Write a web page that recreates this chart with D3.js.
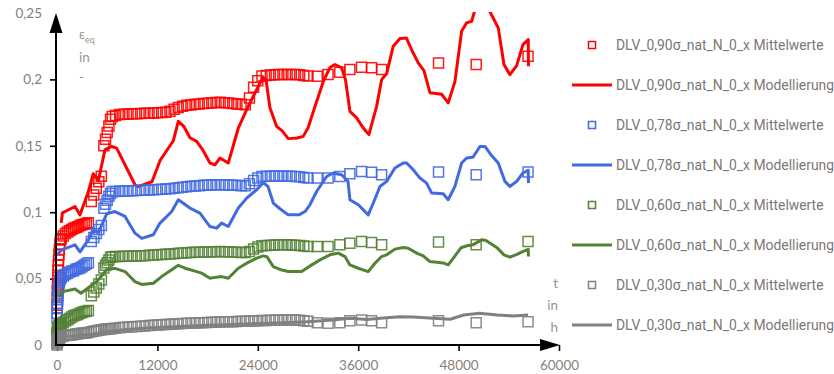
<!DOCTYPE html>
<html>
<head>
<meta charset="utf-8">
<script src="https://cdn.jsdelivr.net/npm/d3@7/dist/d3.min.js"></script>
<style>
  body { margin: 0; background: #fff; }
  svg { display: block; }
</style>
</head>
<body>
<svg id="chart" width="834" height="374"></svg>
<script>
// ---- Mittelwerte: shared measuring times (s) ----
const mwTime = [
  0, 20, 40, 60, 90, 120, 150, 190, 230, 280, 340, 420,
  500, 750, 1000, 1250, 1500, 1750, 2000, 2250, 2500, 2750, 3000, 3250, 3500, 3750,
  4100, 4400, 4700, 5000, 5300,
  5600, 5800, 6000, 6200, 6400, 6600,
  7000, 7500, 8000, 8500, 9000, 9500, 10000, 10500, 11000, 11500, 12000, 12500, 13000, 13500,
  14000, 14500, 15000, 15500, 16000, 16500, 17000, 17500, 18000, 18500, 19000, 19500, 20000,
  20500, 21000, 21500, 22000, 22500, 23000, 23500, 24000, 24500, 25000, 25500, 26000, 26500,
  27000, 27500, 28000, 28500, 29000, 29500, 30000,
  31100, 32400, 33800, 35000, 36400, 37600, 38800, 45600, 50100, 56300
];

const mw090 = [
  0.030, 0.036, 0.041, 0.046, 0.051, 0.056, 0.060, 0.064, 0.068, 0.072, 0.076, 0.079,
  0.080, 0.082, 0.084, 0.085, 0.086, 0.087, 0.088, 0.0885, 0.089, 0.090, 0.0905, 0.091, 0.0915, 0.092,
  0.108, 0.113, 0.118, 0.123, 0.127,
  0.150, 0.155, 0.160, 0.165, 0.170, 0.172,
  0.1728, 0.1735, 0.1738, 0.1740, 0.1742, 0.1741, 0.1744, 0.1746, 0.1745, 0.1747, 0.1748, 0.1750, 0.1752, 0.1760,
  0.1775, 0.1788, 0.1798, 0.1805, 0.1808, 0.1812, 0.1815, 0.1818, 0.1820, 0.1823, 0.1826, 0.1827, 0.1825,
  0.1822, 0.1818, 0.1815, 0.1812, 0.1810, 0.1860, 0.1940, 0.1990, 0.2025, 0.2030, 0.2033, 0.2035, 0.2036,
  0.2036, 0.2037, 0.2036, 0.2036, 0.2035, 0.2030, 0.2025,
  0.2024, 0.2036, 0.2054, 0.2074, 0.2091, 0.2087, 0.2074, 0.2124, 0.2112, 0.2175
];

const mw078 = [
  0.020, 0.024, 0.028, 0.031, 0.034, 0.037, 0.040, 0.043, 0.045, 0.047, 0.049, 0.050,
  0.051, 0.052, 0.053, 0.054, 0.055, 0.0555, 0.056, 0.057, 0.0575, 0.058, 0.059, 0.060, 0.061, 0.062,
  0.078, 0.081, 0.084, 0.087, 0.090,
  0.103, 0.106, 0.109, 0.112, 0.114, 0.1155,
  0.1156, 0.1157, 0.1159, 0.1160, 0.1162, 0.1163, 0.1165, 0.1166, 0.1168, 0.1169, 0.1170, 0.1172, 0.1174, 0.1177,
  0.1180, 0.1184, 0.1188, 0.1192, 0.1195, 0.1198, 0.1200, 0.1202, 0.1204, 0.1205, 0.1206, 0.1207, 0.1206,
  0.1205, 0.1203, 0.1202, 0.1200, 0.1200, 0.1215, 0.1238, 0.1258, 0.1268, 0.1270, 0.1271, 0.1272, 0.1272,
  0.1272, 0.1271, 0.1270, 0.1269, 0.1267, 0.1262, 0.1258,
  0.1257, 0.1257, 0.1269, 0.1290, 0.1307, 0.1300, 0.1282, 0.1302, 0.1282, 0.1302
];

const mw060 = [
  0.008, 0.009, 0.010, 0.011, 0.012, 0.013, 0.013, 0.014, 0.014, 0.015, 0.015, 0.016,
  0.016, 0.017, 0.018, 0.019, 0.020, 0.021, 0.022, 0.0225, 0.023, 0.024, 0.0245, 0.025, 0.0255, 0.026,
  0.037, 0.040, 0.043, 0.046, 0.049,
  0.058, 0.060, 0.062, 0.064, 0.066, 0.0665,
  0.0666, 0.0667, 0.0668, 0.0669, 0.0670, 0.0671, 0.0672, 0.0673, 0.0675, 0.0677, 0.0679, 0.0681, 0.0683, 0.0686,
  0.0688, 0.0690, 0.0692, 0.0694, 0.0696, 0.0698, 0.0699, 0.0700, 0.0701, 0.0702, 0.0703, 0.0704, 0.0703,
  0.0702, 0.0700, 0.0699, 0.0697, 0.0696, 0.0705, 0.0722, 0.0738, 0.0747, 0.0750, 0.0752, 0.0753, 0.0754,
  0.0754, 0.0754, 0.0753, 0.0752, 0.0750, 0.0746, 0.0742,
  0.0741, 0.0741, 0.0754, 0.0767, 0.0779, 0.0771, 0.0754, 0.0775, 0.0754, 0.0779
];

const mw030 = [
  0.000, 0.001, 0.002, 0.003, 0.003, 0.004, 0.004, 0.005, 0.005, 0.005, 0.006, 0.006,
  0.0065, 0.0068, 0.0071, 0.0074, 0.0076, 0.0078, 0.0080, 0.0082, 0.0084, 0.0086, 0.0088, 0.0090, 0.0092, 0.0094,
  0.0100, 0.0104, 0.0108, 0.0112, 0.0115,
  0.0117, 0.0119, 0.0120, 0.0122, 0.0123, 0.0125,
  0.0126, 0.0130, 0.0133, 0.0136, 0.0138, 0.0140, 0.0142, 0.0144, 0.0146, 0.0148, 0.0150, 0.0152, 0.0154, 0.0156,
  0.0158, 0.0160, 0.0161, 0.0163, 0.0164, 0.0166, 0.0167, 0.0168, 0.0170, 0.0171, 0.0172, 0.0174, 0.0175,
  0.0176, 0.0176, 0.0177, 0.0178, 0.0179, 0.0180, 0.0181, 0.0182, 0.0184, 0.0185, 0.0186, 0.0187, 0.0188,
  0.0189, 0.0189, 0.0189, 0.0188, 0.0186, 0.0182, 0.0178,
  0.0168, 0.0164, 0.0168, 0.0183, 0.0189, 0.0183, 0.0168, 0.0183, 0.0168, 0.0176
];

// ---- Modellierung: [t in s, eps_eq] ----
const mod090 = [
  [500,0.0920],[650,0.0995],[2150,0.1043],[2750,0.0980],[3700,0.1146],[4340,0.1290],[4940,0.1237],
  [5740,0.1471],[6540,0.1495],[7130,0.1483],[9320,0.1207],[9680,0.1192],[11350,0.1229],[12310,0.1388],
  [13900,0.1538],[14500,0.1684],[15180,0.1644],[15890,0.1561],[16690,0.1533],[17480,0.1463],[18280,0.1370],
  [18880,0.1357],[19480,0.1408],[20470,0.1370],[21670,0.1634],[22670,0.1772],[23860,0.1923],[24620,0.2014],
  [24980,0.1998],[25450,0.1787],[26250,0.1646],[26890,0.1614],[27640,0.1554],[28680,0.1559],[29430,0.1571],
  [30000,0.1634],[30830,0.1795],[31820,0.1983],[32620,0.2089],[33220,0.2112],[34020,0.2087],[34480,0.1998],
  [35010,0.1759],[35810,0.1710],[36600,0.1634],[37280,0.1584],[38200,0.1797],[38800,0.1998],[39400,0.2044],
  [40190,0.2250],[40990,0.2308],[41770,0.2311],[42480,0.2210],[43180,0.2124],[43860,0.2066],[44570,0.1900],
  [45970,0.1889],[46760,0.1823],[47560,0.1983],[48360,0.2363],[48960,0.2426],[49560,0.2438],[50300,0.2600],
  [51000,0.2610],[51740,0.2511],[52740,0.2388],[53420,0.2112],[54130,0.2036],[54940,0.2104],[55690,0.2262],
  [56320,0.2300],[56350,0.2099]
];

const mod078 = [
  [0,0.0680],[560,0.0716],[2150,0.0754],[2750,0.0701],[3740,0.0792],[4340,0.0867],[4940,0.0845],
  [5940,0.0988],[6930,0.1005],[8130,0.0968],[9320,0.0842],[10120,0.0803],[11510,0.0830],[12310,0.0918],
  [13710,0.1005],[14500,0.1094],[15180,0.1063],[15890,0.1031],[17090,0.0993],[18280,0.0892],[19080,0.0880],
  [19680,0.0918],[20470,0.0892],[21670,0.1031],[22670,0.1106],[23860,0.1169],[24650,0.1222],[25220,0.1194],
  [25850,0.1069],[26650,0.1026],[27640,0.0980],[28920,0.0980],[29640,0.1005],[30230,0.1056],[31030,0.1156],
  [32230,0.1269],[33020,0.1295],[34020,0.1282],[34780,0.1232],[35010,0.1094],[36010,0.1056],[37200,0.0980],
  [37800,0.1069],[38600,0.1194],[39400,0.1232],[40390,0.1333],[41380,0.1370],[41790,0.1370],[42580,0.1320],
  [43380,0.1257],[44180,0.1219],[44780,0.1144],[46160,0.1139],[46760,0.1094],[47560,0.1194],[48360,0.1370],
  [48960,0.1408],[49710,0.1414],[50550,0.1495],[51150,0.1495],[51860,0.1433],[52740,0.1370],[53540,0.1232],
  [54130,0.1194],[54940,0.1232],[55690,0.1295],[56320,0.1316],[56350,0.1219]
];

const mod060 = [
  [200,0.0364],[560,0.0400],[2150,0.0422],[2870,0.0390],[3940,0.0440],[4740,0.0477],[5940,0.0566],
  [6930,0.0577],[8130,0.0553],[9320,0.0477],[10120,0.0456],[11510,0.0465],[12510,0.0515],[13710,0.0566],
  [14500,0.0600],[15300,0.0578],[16290,0.0560],[17290,0.0541],[18280,0.0503],[19080,0.0511],[19680,0.0515],
  [20470,0.0503],[21670,0.0578],[22670,0.0616],[23860,0.0654],[24650,0.0671],[25100,0.0664],[25850,0.0590],
  [26650,0.0569],[27640,0.0553],[29240,0.0553],[30110,0.0590],[31430,0.0641],[32620,0.0679],[33620,0.0692],
  [34420,0.0666],[35010,0.0603],[36010,0.0578],[37200,0.0553],[38000,0.0616],[38800,0.0666],[39400,0.0679],
  [40390,0.0722],[41380,0.0734],[41980,0.0729],[42990,0.0692],[43770,0.0671],[44570,0.0628],[46160,0.0618],
  [46760,0.0603],[47440,0.0660],[48280,0.0732],[49000,0.0747],[49680,0.0754],[50750,0.0792],[51270,0.0787],
  [52550,0.0735],[53420,0.0679],[54130,0.0661],[54970,0.0682],[55720,0.0705],[56320,0.0720],[56350,0.0666]
];

const mod030 = [
  [0,0.0060],[2000,0.0068],[4000,0.0080],[6000,0.0100],[8000,0.0115],[10000,0.0125],[12000,0.0132],
  [14000,0.0138],[16000,0.0143],[18000,0.0148],[20000,0.0152],[22000,0.0157],[24000,0.0162],[26000,0.0166],
  [28000,0.0170],[30000,0.0176],[33000,0.0189],[35000,0.0201],[37000,0.0192],[39000,0.0203],[41000,0.0213],
  [42600,0.0210],[45000,0.0201],[47000,0.0194],[48600,0.0226],[50500,0.0239],[52600,0.0226],[54500,0.0219],
  [56300,0.0226]
];

// ---- series, axis ticks ----
const seriesLabels = ["DLV_0,90σ_nat_N_0_x", "DLV_0,78σ_nat_N_0_x", "DLV_0,60σ_nat_N_0_x", "DLV_0,30σ_nat_N_0_x"];
const seriesColors = ["#ff0000", "#4169e1", "#548235", "#808080"];
const meanSeries = [mw090, mw078, mw060, mw030];
const modelSeries = [mod090, mod078, mod060, mod030];
const xTicks = [0, 12000, 24000, 36000, 48000, 60000];
const yTicks = [0, 0.05, 0.1, 0.15, 0.2, 0.25];

const svg = d3.select("#chart");
const x = d3.scaleLinear().domain([0, 60000]).range([57, 559]);
const y = d3.scaleLinear().domain([0, 0.25]).range([345, 13]);

const de = d3.formatLocale({ decimal: ",", thousands: ".", grouping: [3], currency: ["", "€"] });
const fmtY = de.format("~g");
const tickColor = "#877f78";
const titleColor = "#a39384";

svg.append("defs").append("clipPath").attr("id", "plotClip")
  .append("rect").attr("x", 40).attr("y", y(0.25) - 1).attr("width", 530).attr("height", 374);

// axes
const gx = svg.append("g").attr("transform", `translate(0,${y(0)})`)
  .call(d3.axisBottom(x).tickValues(xTicks).tickFormat(d3.format("d")).tickSize(6).tickPadding(9));
const gy = svg.append("g").attr("transform", `translate(${x(0) - 1},0)`)
  .call(d3.axisLeft(y).tickValues(yTicks).tickFormat(fmtY).tickSize(6).tickPadding(8));
[gx, gy].forEach(g => {
  g.select(".domain").remove();
  g.selectAll(".tick line").attr("stroke", "#000").attr("stroke-width", 1.6);
  g.selectAll(".tick text").attr("fill", tickColor).style("font-family", "Lato, 'Open Sans', sans-serif").style("font-size", "13.5px");
});
gy.selectAll(".tick").filter(d => d === 0 || d === 0.25).select("line").remove();

// series
const plot = svg.append("g").attr("clip-path", "url(#plotClip)");
const sq = d3.symbol(d3.symbolSquare, 100);
const line = d3.line().x(d => x(d[0])).y(d => y(d[1]));

seriesLabels.forEach((name, i) => {
  const pts = mwTime.map((t, k) => [t, meanSeries[i][k]]);
  plot.append("g").selectAll("path").data(pts).join("path")
    .attr("d", sq)
    .attr("transform", d => `translate(${x(d[0])},${y(d[1])})`)
    .attr("fill", "none")
    .attr("stroke", seriesColors[i])
    .attr("stroke-width", 1.5)
    .attr("stroke-opacity", 0.9);
  plot.append("path").datum(modelSeries[i])
    .attr("d", line)
    .attr("fill", "none")
    .attr("stroke", seriesColors[i])
    .attr("stroke-width", 3)
    .attr("stroke-linejoin", "round");
});

// axis lines with arrow heads
const ax = svg.append("g");
ax.append("line").attr("x1", x(0) - 1).attr("x2", x(60000) - 10).attr("y1", y(0)).attr("y2", y(0))
  .attr("stroke", "#000").attr("stroke-width", 2);
ax.append("line").attr("x1", x(0) - 1).attr("x2", x(0) - 1).attr("y1", y(0) + 1).attr("y2", y(0.25) + 10)
  .attr("stroke", "#000").attr("stroke-width", 2);
ax.append("path")
  .attr("d", `M${x(60000) + 1},${y(0)} L${x(60000) - 19},${y(0) - 6} L${x(60000) - 19},${y(0) + 6} Z`)
  .attr("fill", "#000");
ax.append("path")
  .attr("d", `M${x(0) - 1},${y(0.25)} L${x(0) - 7.5},${y(0.25) + 20} L${x(0) + 5.5},${y(0.25) + 20} Z`)
  .attr("fill", "#000");

// axis titles
const yt = svg.append("g").attr("fill", titleColor).style("font-family", "Lato, 'Open Sans', sans-serif");
const eps = yt.append("text").attr("x", 79).attr("y", 39).style("font-size", "13px");
eps.append("tspan").text("ε");
eps.append("tspan").attr("dy", 4).style("font-size", "9px").text("eq");
yt.append("text").attr("x", 79).attr("y", 62).style("font-size", "13.5px").text("in");
yt.append("text").attr("x", 79).attr("y", 82).style("font-size", "13.5px").text("-");

const xt = svg.append("g").attr("fill", titleColor).attr("text-anchor", "end")
  .style("font-family", "Lato, 'Open Sans', sans-serif").style("font-size", "13.5px");
xt.append("text").attr("x", 558).attr("y", 288).text("t");
xt.append("text").attr("x", 558).attr("y", 310).text("in");
xt.append("text").attr("x", 558).attr("y", 332).text("h");

// legend
const lg = svg.append("g").style("font-family", "Roboto, 'Liberation Sans', sans-serif").style("font-size", "13.9px");
seriesLabels.forEach((name, i) => {
  const c = seriesColors[i];
  const y1 = 45 + i * 80, y2 = y1 + 40;
  lg.append("rect").attr("x", 588.5).attr("y", y1 - 3.5).attr("width", 7).attr("height", 7)
    .attr("fill", "none").attr("stroke", c).attr("stroke-width", 1.5);
  lg.append("text").attr("x", 616).attr("y", y1).attr("dy", "0.35em").attr("fill", "#7c7773").text(name + " Mittelwerte");
  lg.append("line").attr("x1", 572).attr("x2", 612).attr("y1", y2).attr("y2", y2)
    .attr("stroke", c).attr("stroke-width", 3);
  lg.append("text").attr("x", 616).attr("y", y2).attr("dy", "0.35em").attr("fill", "#7c7773").text(name + " Modellierung");
});
</script>
</body>
</html>
